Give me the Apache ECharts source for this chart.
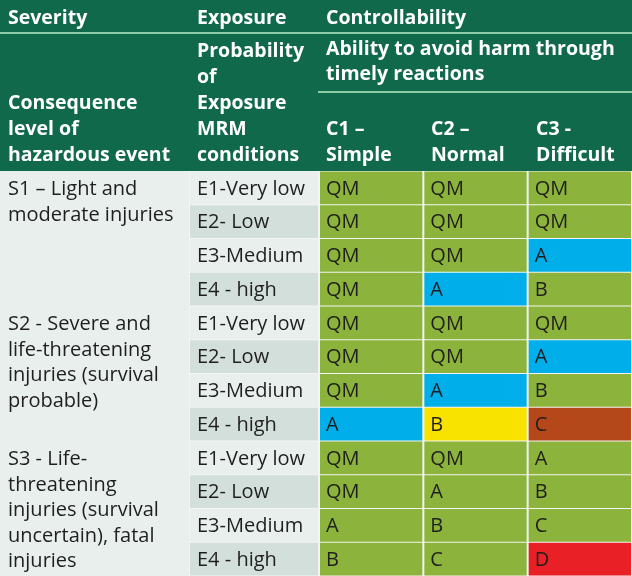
<!DOCTYPE html>
<html><head><meta charset="utf-8">
<script src="https://cdn.jsdelivr.net/npm/echarts@6/dist/echarts.min.js"></script>
<style>html,body{margin:0;padding:0;background:#f2f5f3}#c{width:632px;height:576px}</style>
</head><body><div id="c"></div>
<script>
// ---- data ----
const headerTop = ['Severity', 'Exposure', 'Controllability'];
const headerSub = ['Consequence\nlevel of\nhazardous event', 'Probability\nof\nExposure\nMRM\nconditions', 'Ability to avoid harm through\ntimely reactions'];
const controllability = ['C1 –\nSimple', 'C2 –\nNormal', 'C3 -\nDifficult'];
const severities = [
  'S1 – Light and\nmoderate injuries',
  'S2 - Severe and\nlife-threatening\ninjuries (survival\nprobable)',
  'S3 - Life-\nthreatening\ninjuries (survival\nuncertain), fatal\ninjuries'
];
const exposures = ['E1-Very low', 'E2- Low', 'E3-Medium', 'E4 - high'];
// 12 rows: S1 E1..E4, S2 E1..E4, S3 E1..E4
const c1Values = ['QM','QM','QM','QM', 'QM','QM','QM','A', 'QM','QM','A','B'];
const c2Values = ['QM','QM','QM','A', 'QM','QM','A','B', 'QM','A','B','C'];
const c3Values = ['QM','QM','A','B', 'QM','A','B','C', 'A','B','C','D'];
// highlight class of each cell (0 = none, 1 = A, 2 = B, 3 = C, 4 = D)
const c1Highlight = [0,0,0,0, 0,0,0,1, 0,0,0,0];
const c2Highlight = [0,0,0,1, 0,0,1,2, 0,0,0,0];
const c3Highlight = [0,0,1,0, 0,1,0,3, 0,0,0,4];

// ---- styles ----
const GREEN_DARK = '#10694a';
const LINE = '#8ccaa8';
const shadeColors = ['#8cb33b', '#00aeea', '#f8e300', '#b4481b', '#e92126'];
const LIGHT = '#e9efed', DARK = '#d3dfdb';
const HFONT = '"Open Sans", Lato, sans-serif';
const FONT = '"Open Sans", Lato, sans-serif';
const TEXT = '#1f1f1f';
const HSIZE = '19.5px ';
const BSIZE = '20px ';

const rowIds = [];
for (let i = 0; i < 12; i++) rowIds.push(String(i));

const cellData = [];
[c1Values, c2Values, c3Values].forEach((col, ci) => {
  const hl = [c1Highlight, c2Highlight, c3Highlight][ci];
  col.forEach((v, ri) => cellData.push([ci, ri, v, hl[ri]]));
});
const expData = [];
for (let s = 0; s < 3; s++) exposures.forEach((e, k) => expData.push([0, s * 4 + k, e]));
const sevData = severities.map((s, i) => [0, i, s]);

const chart = echarts.init(document.getElementById('c'), null, {renderer: 'canvas'});
const hiddenCat = (data, grid, inverse) => ({type: 'category', data, gridIndex: grid, inverse: !!inverse, show: false, boundaryGap: true});

chart.setOption({
  animation: false,
  backgroundColor: '#f2f5f3',
  grid: [
    {left: 319, right: 0, top: 171, bottom: 0},
    {left: 190, width: 129, top: 171, bottom: 0},
    {left: 0, width: 189, top: 171, bottom: 0}
  ],
  xAxis: [hiddenCat(['C1','C2','C3'], 0), hiddenCat(['E'], 1), hiddenCat(['S'], 2)],
  yAxis: [hiddenCat(rowIds, 0, true), hiddenCat(rowIds, 1, true), hiddenCat(['S1','S2','S3'], 2, true)],
  series: [
    {
      type: 'custom', xAxisIndex: 0, yAxisIndex: 0, data: cellData,
      renderItem: (params, api) => {
        const p = api.coord([api.value(0), api.value(1)]);
        const s = api.size([1, 1]);
        const x = p[0] - s[0] / 2, y = p[1] - s[1] / 2;
        return {type: 'group', children: [
          {type: 'rect', shape: {x: x + 1, y: y + 0.5, width: s[0] - 2, height: s[1] - 1},
           style: {fill: shadeColors[api.value(3)]}},
          {type: 'text', style: {text: cellData[params.dataIndex][2], x: x + 7, y: p[1] + 1,
            verticalAlign: 'middle', fill: TEXT, font: BSIZE + FONT}}
        ]};
      }
    },
    {
      type: 'custom', xAxisIndex: 1, yAxisIndex: 1, data: expData,
      renderItem: (params, api) => {
        const p = api.coord([api.value(0), api.value(1)]);
        const s = api.size([1, 1]);
        const x = p[0] - s[0] / 2, y = p[1] - s[1] / 2;
        return {type: 'group', children: [
          {type: 'rect', shape: {x: x, y: y + 0.5, width: s[0] - 1, height: s[1] - 1},
           style: {fill: api.value(1) % 2 ? DARK : LIGHT}},
          {type: 'text', style: {text: expData[params.dataIndex][2], x: x + 7, y: p[1] + 1,
            verticalAlign: 'middle', fill: TEXT, font: BSIZE + FONT}}
        ]};
      }
    },
    {
      type: 'custom', xAxisIndex: 2, yAxisIndex: 2, data: sevData,
      renderItem: (params, api) => {
        const p = api.coord([api.value(0), api.value(1)]);
        const s = api.size([1, 1]);
        const x = p[0] - s[0] / 2, y = p[1] - s[1] / 2;
        return {type: 'group', children: [
          {type: 'rect', shape: {x: x, y: y, width: s[0], height: s[1]}, style: {fill: LIGHT}},
          {type: 'text', style: {text: sevData[params.dataIndex][2], x: x + 8, y: y + 6,
            verticalAlign: 'top', lineHeight: 25.5, fill: TEXT, font: BSIZE + FONT}}
        ]};
      }
    }
  ],
  graphic: [
    {type: 'rect', shape: {x: 0, y: 0, width: 632, height: 171}, style: {fill: GREEN_DARK}, silent: true},
    {type: 'rect', shape: {x: 0, y: 32, width: 632, height: 2}, style: {fill: LINE}, silent: true},
    {type: 'rect', shape: {x: 318, y: 91, width: 314, height: 2}, style: {fill: LINE}, silent: true},
    {type: 'text', style: {text: headerTop[0], x: 8, y: 18, verticalAlign: 'middle', fill: '#fff', font: 'bold ' + HSIZE + HFONT}},
    {type: 'text', style: {text: headerTop[1], x: 197, y: 18, verticalAlign: 'middle', fill: '#fff', font: 'bold ' + HSIZE + HFONT}},
    {type: 'text', style: {text: headerTop[2], x: 326, y: 18, verticalAlign: 'middle', fill: '#fff', font: 'bold ' + HSIZE + HFONT}},
    {type: 'text', style: {text: headerSub[0], x: 8, y: 168, verticalAlign: 'bottom', lineHeight: 26, fill: '#fff', font: 'bold ' + HSIZE + HFONT}},
    {type: 'text', style: {text: headerSub[1], x: 197, y: 168, verticalAlign: 'bottom', lineHeight: 26, fill: '#fff', font: 'bold ' + HSIZE + HFONT}},
    {type: 'text', style: {text: headerSub[2], x: 326, y: 37, verticalAlign: 'top', lineHeight: 25, fill: '#fff', font: 'bold ' + HSIZE + HFONT}},
    {type: 'text', style: {text: controllability[0], x: 326, y: 168, verticalAlign: 'bottom', lineHeight: 26, fill: '#fff', font: 'bold ' + HSIZE + HFONT}},
    {type: 'text', style: {text: controllability[1], x: 431, y: 168, verticalAlign: 'bottom', lineHeight: 26, fill: '#fff', font: 'bold ' + HSIZE + HFONT}},
    {type: 'text', style: {text: controllability[2], x: 536, y: 168, verticalAlign: 'bottom', lineHeight: 26, fill: '#fff', font: 'bold ' + HSIZE + HFONT}}
  ]
});
</script></body></html>
